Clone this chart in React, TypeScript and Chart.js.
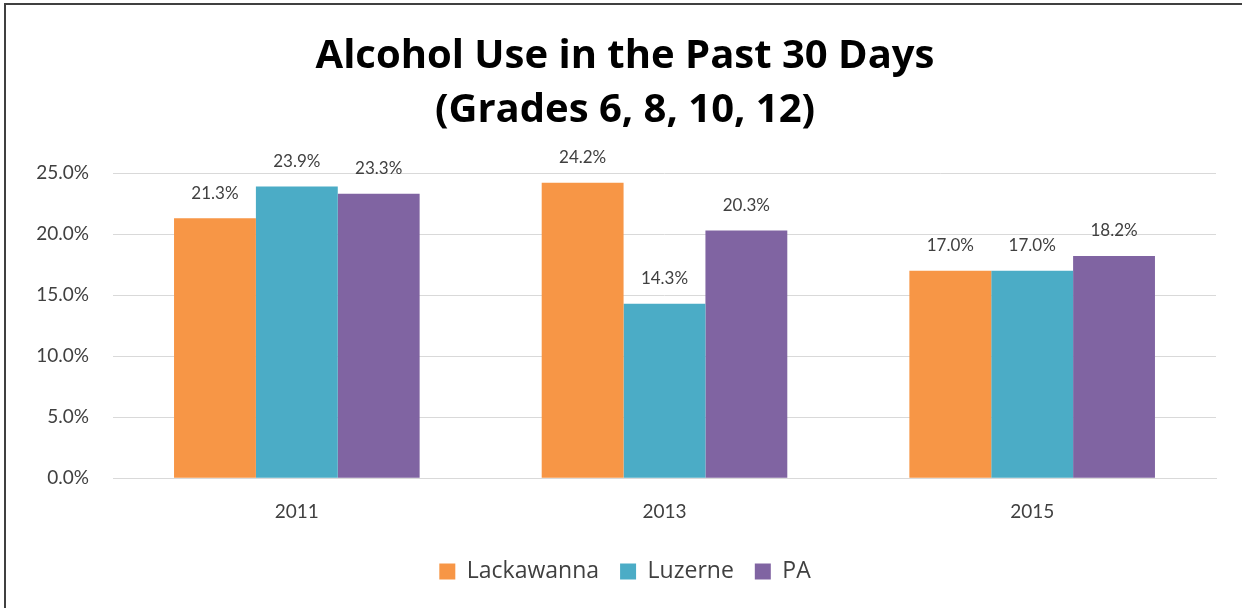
import React, { useEffect, useRef } from "react";
import { Chart, registerables } from "chart.js";

Chart.register(...registerables);

const categories = ["2011", "2013", "2015"];
const lackawanna = [21.3, 24.2, 17.0];
const luzerne = [23.9, 14.3, 17.0];
const pa = [23.3, 20.3, 18.2];
const yTicks = [0, 5, 10, 15, 20, 25];
const titleLines = ["Alcohol Use in the Past 30 Days", "(Grades 6, 8, 10, 12)"];

const FONT = "Lato, 'Open Sans', sans-serif";
const WIDE = "'Open Sans', Lato, sans-serif";
const TEXT = "#404040";

const dataLabels = {
  id: "dataLabels",
  afterDatasetsDraw(chart: any) {
    const ctx = chart.ctx;
    ctx.save();
    ctx.font = `17px ${FONT}`;
    ctx.fillStyle = TEXT;
    ctx.textAlign = "center";
    ctx.textBaseline = "middle";
    chart.data.datasets.forEach((ds: any, i: number) => {
      const meta = chart.getDatasetMeta(i);
      meta.data.forEach((bar: any, j: number) => {
        ctx.fillText(ds.data[j].toFixed(1) + "%", bar.x, bar.y - 25);
      });
    });
    ctx.restore();
  },
};

export default function App() {
  const ref = useRef<HTMLCanvasElement>(null);
  useEffect(() => {
    const chart = new Chart(ref.current!, {
      type: "bar",
      data: {
        labels: categories,
        datasets: [
          { label: "Lackawanna", data: lackawanna, backgroundColor: "#F79646" },
          { label: "Luzerne", data: luzerne, backgroundColor: "#4BACC6" },
          { label: "PA", data: pa, backgroundColor: "#8064A2" },
        ],
      },
      options: {
        animation: false,
        responsive: false,
        maintainAspectRatio: false,
        layout: { padding: { left: 34, right: 26, top: 30, bottom: 15 } },
        datasets: { bar: { categoryPercentage: 0.668, barPercentage: 1 } },
        plugins: {
          title: {
            display: true,
            text: titleLines,
            color: "#000",
            font: { family: WIDE, size: 40, weight: "bold", lineHeight: 1.35 },
            padding: { top: 0, bottom: 35 },
          },
          legend: {
            position: "bottom",
            labels: {
              color: TEXT,
              font: { family: WIDE, size: 23 },
              boxWidth: 16,
              boxHeight: 16,
              padding: 21,
            },
          },
          tooltip: { enabled: false },
        },
        scales: {
          x: {
            grid: { display: false },
            border: { display: true, color: "#d9d9d9" },
            ticks: { color: TEXT, font: { family: FONT, size: 19 }, padding: 14 },
            afterFit(scale: any) {
              scale.height += 2;
            },
          },
          y: {
            min: 0,
            max: 25,
            afterFit(scale: any) {
              scale.width = 79;
            },
            afterBuildTicks(scale: any) {
              scale.ticks = yTicks.map((v) => ({ value: v }));
            },
            grid: { color: "#d9d9d9", drawTicks: false },
            border: { display: false },
            ticks: {
              color: TEXT,
              font: { family: FONT, size: 19 },
              padding: 24,
              callback: (v: any) => Number(v).toFixed(1) + "%",
            },
          },
        },
      },
      plugins: [dataLabels],
    });
    return () => chart.destroy();
  }, []);
  return (
    <div style={{ position: "fixed", left: 0, top: 0, width: 1242, height: 608, background: "#fff", overflow: "hidden" }}>
      <canvas ref={ref} width={1242} height={608} style={{ position: "absolute", left: 0, top: 0 }} />
      <div
        style={{
          position: "absolute",
          left: 4,
          top: 3,
          width: 1300,
          height: 700,
          border: "2px solid #404040",
          pointerEvents: "none",
        }}
      />
    </div>
  );
}
